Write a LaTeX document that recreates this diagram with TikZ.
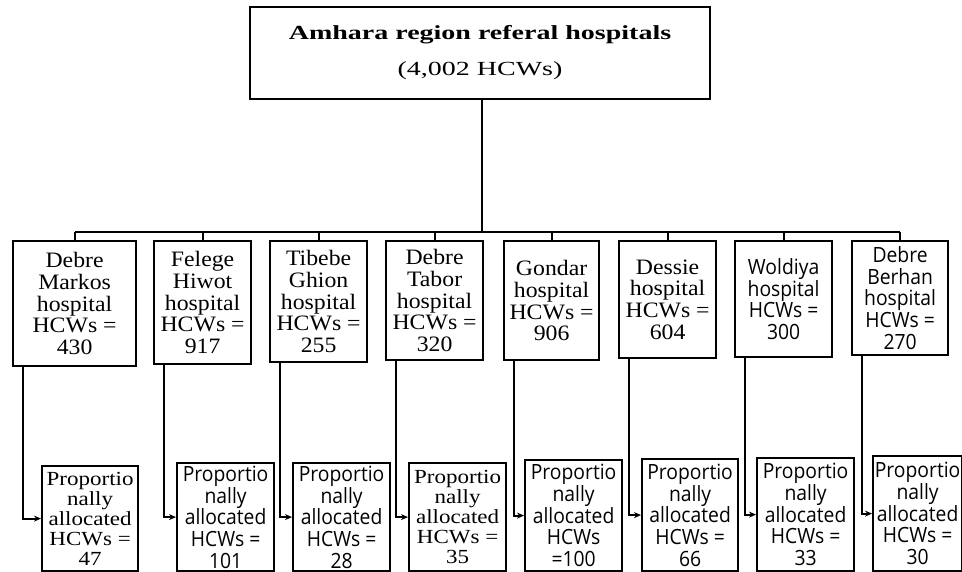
\documentclass[tikz,border=0pt]{standalone}
\usepackage{fontspec}
\usetikzlibrary{arrows.meta}
\setmainfont{Liberation Serif}
\newfontfamily\hserif[FakeStretch=1.08]{Liberation Serif}
\newfontfamily\pserif[FakeStretch=1.15]{Liberation Serif}
\newfontfamily\psans[FakeStretch=0.92]{Open Sans}
\newfontfamily\tserif[FakeStretch=1.4]{Liberation Serif}

\newcommand{\upserif}{\hserif\fontsize{22}{21.8}\selectfont}
\newcommand{\upsans}{\psans\fontsize{21}{21.7}\selectfont}
\newcommand{\lowserif}{\pserif\fontsize{20}{20}\selectfont}
\newcommand{\lowsans}{\psans\fontsize{21}{21.7}\selectfont}

\tikzset{
    box/.style={draw, line width=2.2pt, align=center, inner sep=0pt, anchor=north west},
    hospbox/.style={box, minimum width=97pt, minimum height=#1},
    propbox/.style={box, minimum width=97pt, minimum height=#1},
}

\begin{document}
\begin{tikzpicture}[x=1pt, y=-1pt, line width=2.2pt, >={Stealth[length=7pt,width=6pt]}]
    \clip (0,0) rectangle (962,572);

    % top box
    \node[draw, line width=2.2pt, align=center, inner sep=0pt,
          minimum width=460pt, minimum height=92pt,
          font=\tserif\fontsize{20}{23}\selectfont] (amhara) at (480,53)
        {\textbf{Amhara region referal hospitals}\\[13pt] (4,002 HCWs)};

    % hospitals
    \node[hospbox=125pt, minimum width=123pt, font=\upserif] (h1) at (12,240)
        {Debre\\Markos\\hospital\\HCWs =\\430};
    \node[hospbox=123pt, font=\upserif] (h2) at (153,240)
        {Felege\\Hiwot\\hospital\\HCWs =\\917};
    \node[hospbox=121pt, font=\upserif] (h3) at (269,240)
        {Tibebe\\Ghion\\hospital\\HCWs =\\255};
    \node[hospbox=119pt, font=\upserif] (h4) at (385,240)
        {Debre\\Tabor\\hospital\\HCWs =\\320};
    \node[hospbox=119pt, minimum width=95pt, font=\upserif] (h5) at (503,240)
        {Gondar\\hospital\\HCWs =\\906};
    \node[hospbox=117pt, font=\upserif] (h6) at (618,240)
        {Dessie\\hospital\\HCWs =\\604};
    \node[hospbox=116pt, font=\upsans] (h7) at (734,240)
        {Woldiya\\hospital\\HCWs =\\300};
    \node[hospbox=114pt, minimum width=96pt, font=\upsans] (h8) at (851,240)
        {Debre\\Berhan\\hospital\\HCWs =\\270};

    % proportional allocation
    \node[propbox=105pt, minimum width=96pt, font=\lowserif] (p1) at (41,465)
        {Proportio\\nally\\allocated\\HCWs =\\47};
    \node[propbox=108pt, font=\lowsans] (p2) at (176,462)
        {Proportio\\nally\\allocated\\HCWs =\\101};
    \node[propbox=108pt, font=\lowsans] (p3) at (292,462)
        {Proportio\\nally\\allocated\\HCWs =\\28};
    \node[propbox=108pt, font=\lowserif] (p4) at (408,462)
        {Proportio\\nally\\allocated\\HCWs =\\35};
    \node[propbox=111pt, font=\lowsans] (p5) at (524,459)
        {Proportio\\nally\\allocated\\HCWs\\=100};
    \node[propbox=112pt, minimum width=96pt, font=\lowsans] (p6) at (641,458)
        {Proportio\\nally\\allocated\\HCWs =\\66};
    \node[propbox=113pt, font=\lowsans] (p7) at (756,457)
        {Proportio\\nally\\allocated\\HCWs =\\33};
    \node[propbox=115pt, minimum width=89pt, font=\lowsans] (p8) at (872,455)
        {Proportio\\nally\\allocated\\HCWs =\\30};

    % connectors
    \coordinate (bus) at (482,232);
    \draw (amhara.south -| bus) -- (bus);
    \draw (bus -| h1.north) -- (bus -| h8.north);
    \foreach \i in {1,...,8} {
        \draw (bus -| h\i.north) -- (h\i.north);
        \draw[->] ([xshift=11pt]h\i.south west) |- (p\i.west);
    }
\end{tikzpicture}
\end{document}
